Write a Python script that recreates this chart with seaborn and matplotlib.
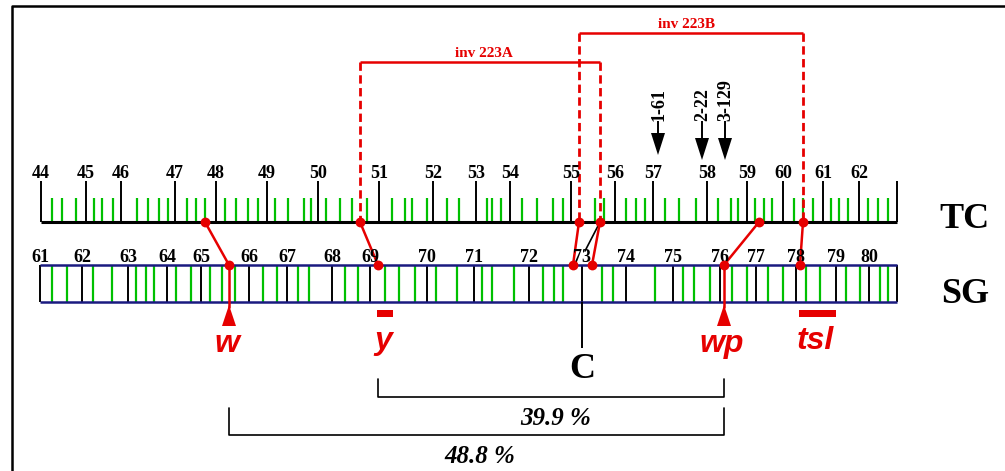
import numpy as np
import pandas as pd
import seaborn as sns
import matplotlib.pyplot as plt
from matplotlib.patches import Polygon, Rectangle

# map positions (chart units, left to right)
tc_labels = list(range(44, 63))
tc_major = [41, 86, 121, 175, 216, 267, 318, 379, 433, 476, 510, 571, 615, 653, 707, 747, 783, 823, 859]
tc_minor = [52, 62, 76, 94, 102, 113, 137, 148, 159, 168, 187, 196, 205, 225, 236, 248, 258,
            275, 288, 304, 311, 326, 340, 352, 367, 392, 405, 412, 427, 447, 459, 487, 492, 501,
            522, 537, 553, 563, 595, 604, 626, 636, 645, 665, 679, 696, 718, 731, 738, 755, 764,
            772, 794, 803, 813, 831, 839, 848, 868, 878, 888]

sg_labels = list(range(61, 81))
sg_major = [40, 82, 128, 167, 201, 249, 287, 332, 370, 427, 474, 529, 582, 626, 673, 720, 756, 796, 836, 869]
sg_minor = [52, 67, 93, 112, 136, 146, 154, 176, 191, 210, 222, 235, 263, 277, 298, 309, 345, 358,
            385, 399, 415, 436, 457, 482, 492, 514, 543, 554, 563, 602, 613, 655, 683, 694, 710,
            732, 747, 768, 783, 806, 820, 846, 860, 880, 888]
map_end = 897

# red links TC -> SG
link_tc = [205, 360, 579, 600, 759, 803]
link_sg = [229, 378, 573, 592, 724, 800]

# inversions (left, right)
inv_names = ["inv 223A", "inv 223B"]
inv_left = [360, 579]
inv_right = [600, 803]

# markers
loci_arrow = ["w", "wp"]
loci_arrow_pos = [229, 724]
loci_bar = ["y", "tsl"]
loci_bar_from = [377, 799]
loci_bar_to = [393, 836]
centromere_pos = 582

breakpoints = ["1-61", "2-22", "3-129"]
breakpoint_pos = [658, 702, 725]

spans = ["39.9 %", "48.8 %"]
span_from = [378, 229]
span_to = [724, 724]

RED = "#e60000"
GREEN = "#00c000"
NAVY = "#1a1a80"

sns.set_theme(style="white")
plt.rcParams["font.family"] = ["Liberation Serif", "DejaVu Serif"]
plt.rcParams["text.color"] = "black"

fig = plt.figure(figsize=(10.05, 4.71), dpi=100)
ax = fig.add_axes([0, 0, 1, 1])

# frame
ax.plot([12, 12, 1005], [471, 6, 6], color="black", lw=1.8, solid_capstyle="butt")

# TC map
y_tc = 222
ax.vlines(tc_minor, 198, y_tc, color=GREEN, lw=1.6)
ax.vlines(tc_major + [map_end], 181, y_tc, color="black", lw=1.4)
ax.hlines(y_tc, tc_major[0], map_end, color="black", lw=2.2)
for lab, x in zip(tc_labels, tc_major):
    ax.text(x, 178, str(lab), ha="center", va="baseline", fontsize=13, fontweight="bold")

# SG map
y_top, y_bot = 265, 302
ax.vlines(sg_minor, y_top, y_bot, color=GREEN, lw=1.6)
ax.vlines(sg_major + [map_end], y_top, y_bot, color="black", lw=1.4)
ax.hlines([y_top, y_bot], sg_major[0], map_end, color=NAVY, lw=1.8)
for lab, x in zip(sg_labels, sg_major):
    ax.text(x, 262, str(lab), ha="center", va="baseline", fontsize=13, fontweight="bold")

ax.text(964, 228, "TC", ha="center", va="baseline", fontsize=26, fontweight="bold")
ax.text(965, 303, "SG", ha="center", va="baseline", fontsize=26, fontweight="bold")

# inversion brackets
inv_top = [62, 33]
for name, x0, x1, yt in zip(inv_names, inv_left, inv_right, inv_top):
    ax.hlines(yt, x0, x1, color=RED, lw=1.8)
    ax.vlines([x0, x1], yt, y_tc, color=RED, lw=2, linestyles=(0, (3, 1.6)))
    ax.text((x0 + x1) / 2 + (4 if x0 < 400 else -4), yt - 5, name, ha="center", va="baseline",
            fontsize=11, fontweight="bold", color=RED)

# black helper line to the centromere tick
ax.plot([599, 585], [224, 251], color="black", lw=1.2)

# links and their end points
links = pd.DataFrame({
    "x": link_tc + link_sg,
    "y": [y_tc] * len(link_tc) + [y_top] * len(link_sg),
    "link": list(range(len(link_tc))) * 2,
})
sns.lineplot(data=links, x="x", y="y", units="link", estimator=None, sort=False,
             color=RED, lw=1.8, ax=ax, legend=False)
sns.scatterplot(data=links, x="x", y="y", color=RED, s=50, edgecolor=RED, linewidth=0,
                ax=ax, legend=False, zorder=5)

# loci with arrows
for name, x in zip(loci_arrow, loci_arrow_pos):
    ax.vlines(x, y_top, 308, color=RED, lw=1.8)
    ax.add_patch(Polygon([(x, 305), (x - 7, 326), (x + 7, 326)], closed=True, color=RED, lw=0))
    ax.text(x - 2, 352, name, ha="center", va="baseline", fontsize=23, fontweight="bold",
            fontstyle="italic", color=RED, family=["Liberation Sans", "DejaVu Sans"])

# loci with bars
for name, x0, x1 in zip(loci_bar, loci_bar_from, loci_bar_to):
    ax.add_patch(Rectangle((x0, 310), x1 - x0, 7, color=RED, lw=0))
    ax.text((x0 + x1) / 2 - 2, 349, name, ha="center", va="baseline", fontsize=23, fontweight="bold",
            fontstyle="italic", color=RED, family=["Liberation Sans", "DejaVu Sans"])

# centromere
ax.vlines(centromere_pos, y_bot, 348, color="black", lw=1.4)
ax.text(centromere_pos, 378, "C", ha="center", va="baseline", fontsize=26, fontweight="bold")

# breakpoint arrows
tips = [155, 160, 160]
for name, x, tip in zip(breakpoints, breakpoint_pos, tips):
    ax.text(x + 1, 121, name, ha="center", va="bottom", rotation=90, fontsize=13, fontweight="bold")
    ax.vlines(x, 121, tip - 20, color="black", lw=1.4)
    ax.add_patch(Polygon([(x, tip), (x - 7, tip - 22), (x + 7, tip - 22)], closed=True,
                         color="black", lw=0))

# distance brackets
span_top = [379, 408]
span_base = [397, 435]
span_text = [(556, 425), (480, 463)]
for name, x0, x1, yt, yb, (tx, ty) in zip(spans, span_from, span_to, span_top, span_base, span_text):
    ax.plot([x0, x0, x1, x1], [yt, yb, yb, yt], color="black", lw=1.2)
    ax.text(tx, ty, name, ha="center", va="baseline", fontsize=18, fontweight="bold",
            fontstyle="italic")

ax.set_xlim(0, 1005)
ax.set_ylim(471, 0)
ax.axis("off")

fig.savefig("out.png", dpi=100)
